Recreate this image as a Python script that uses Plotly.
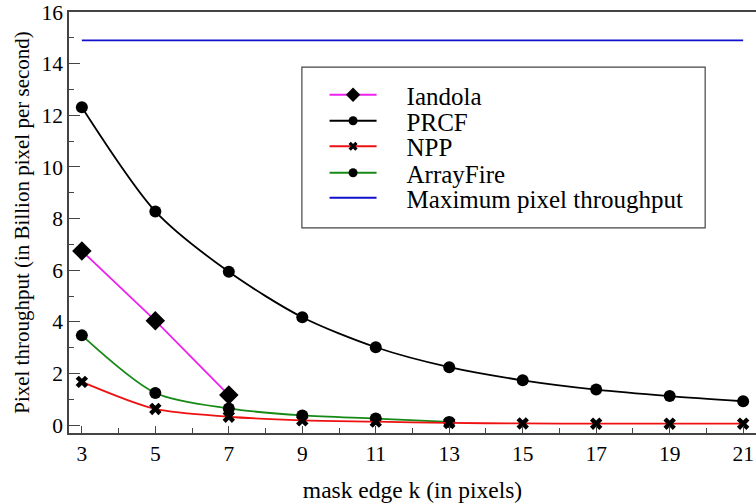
import plotly.graph_objects as go

k = [3, 5, 7, 9, 11, 13, 15, 17, 19, 21]
iandola = [6.75, 4.05, 1.17]
prcf = [12.31, 8.28, 5.94, 4.18, 3.02, 2.25, 1.74, 1.38, 1.13, 0.93]
npp = [1.68, 0.63, 0.33, 0.19, 0.14, 0.09, 0.07, 0.06, 0.06, 0.06]
arrayfire = [3.48, 1.25, 0.65, 0.38, 0.26, 0.13]
max_throughput = 14.9

series_names = ["Iandola", "PRCF", "NPP", "ArrayFire", "Maximum pixel throughput"]

FONT = "Liberation Serif"
C_IAN, C_PRCF, C_NPP, C_AF, C_MAX = "#ee22ee", "#000000", "#ee1111", "#168a16", "#1010cc"

fig = go.Figure()
fig.add_trace(go.Scatter(x=k[:len(iandola)], y=iandola, mode="lines+markers", showlegend=False,
                         line=dict(color=C_IAN, width=1.8),
                         marker=dict(symbol="diamond", size=15, color="black")))
fig.add_trace(go.Scatter(x=k, y=prcf, mode="lines+markers", showlegend=False,
                         line=dict(color=C_PRCF, width=1.8, shape="spline", smoothing=0.8),
                         marker=dict(symbol="circle", size=12, color="black")))
fig.add_trace(go.Scatter(x=k[:len(arrayfire)], y=arrayfire, mode="lines+markers", showlegend=False,
                         line=dict(color=C_AF, width=1.8, shape="spline", smoothing=0.8),
                         marker=dict(symbol="circle", size=12, color="black")))
fig.add_trace(go.Scatter(x=k, y=npp, mode="lines+markers", showlegend=False,
                         line=dict(color=C_NPP, width=1.8, shape="spline", smoothing=0.8),
                         marker=dict(symbol="x", size=11, color="black")))
fig.add_trace(go.Scatter(x=[k[0], k[-1]], y=[max_throughput, max_throughput], mode="lines",
                         showlegend=False, line=dict(color=C_MAX, width=1.8)))

# legend entries (one legend per row for exact spacing)
leg_styles = [
    (C_IAN, dict(symbol="diamond", size=11, color="black"), "lines+markers"),
    (C_PRCF, dict(symbol="circle", size=9, color="black"), "lines+markers"),
    (C_NPP, dict(symbol="x", size=8, color="black"), "lines+markers"),
    (C_AF, dict(symbol="circle", size=9, color="black"), "lines+markers"),
    (C_MAX, dict(size=1, color=C_MAX), "lines"),
]
row_px = [95, 121, 146.5, 173, 198]
PLOT_TOP, PLOT_BOT = 12, 433
legends = {}
for i, (name, (col, mk, mode), ypx) in enumerate(zip(series_names, leg_styles, row_px)):
    lname = "legend" if i == 0 else f"legend{i+1}"
    fig.add_trace(go.Scatter(x=[None], y=[None], name="\u00a0\u00a0\u00a0\u00a0" + name, mode=mode,
                             line=dict(color=col, width=1.8), marker=mk, legend=lname,
                             showlegend=True))
    legends[lname] = dict(x=0.372, y=(PLOT_BOT - ypx) / (PLOT_BOT - PLOT_TOP),
                          xanchor="left", yanchor="middle", bgcolor="rgba(0,0,0,0)",
                          borderwidth=0, itemwidth=47,
                          font=dict(family=FONT, size=25, color="black"))

axis_common = dict(showline=True, linecolor="#444444", linewidth=1.5, mirror=True,
                   ticks="inside", tickcolor="#444444", showgrid=False, zeroline=False,
                   automargin=False,
                   tickfont=dict(family=FONT, size=21.5, color="black"))

fig.update_xaxes(range=[2.65, 21.35], tickmode="array", tickvals=k, ticklen=7,
                 minor=dict(dtick=1, tick0=0, ticks="inside", ticklen=5, tickcolor="#444444"),
                 title=dict(text="mask edge k (in pixels)", font=dict(family=FONT, size=23.5, color="black"),
                            standoff=17),
                 ticklabelstandoff=0, **axis_common)
fig.update_yaxes(range=[-0.3, 16], tickvals=[0, 2, 4, 6, 8, 10, 12, 14, 16], ticklen=11,
                 minor=dict(dtick=1, tick0=0, ticks="inside", ticklen=5, tickcolor="#444444"),
                 title=dict(text="Pixel throughput (in Billion pixel per second)",
                            font=dict(family=FONT, size=21, color="black"), standoff=6),
                 ticklabelstandoff=0, **axis_common)

fig.add_shape(type="rect", xref="paper", yref="paper", x0=0.339, x1=0.926, y0=0.487, y1=0.869,
              line=dict(color="#444444", width=1.2), fillcolor="rgba(0,0,0,0)")

fig.update_layout(
    width=756, height=504,
    margin=dict(l=69, r=0, t=12, b=71),
    plot_bgcolor="white", paper_bgcolor="white",
    font=dict(family=FONT, size=21, color="black"),
    **legends,
)

fig.write_html("out.html", config={"displayModeBar": False},
               post_script="document.body.style.margin='0';document.body.style.padding='0';")
